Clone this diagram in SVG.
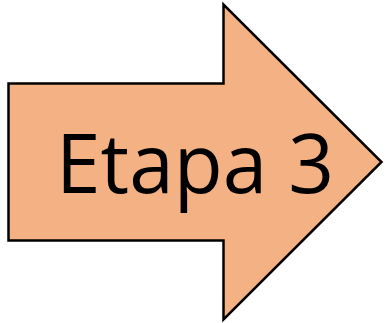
<svg xmlns="http://www.w3.org/2000/svg" width="385" height="323" viewBox="0 0 385 323">
<style>
.shape{fill:#F4B183;stroke:#000;stroke-width:2.5;stroke-linejoin:miter}
.lbl{font-family:"Open Sans","Liberation Sans",sans-serif;font-size:82px;fill:#000}
</style>
<rect width="385" height="323" fill="#fff"/>
<g id="arrow">
<path class="shape" d="M8.5,83.5 H223.5 V4.5 L381.5,162 L223.5,319.5 V240.5 H8.5 Z"/>
<text class="lbl" x="56" y="193" textLength="278" lengthAdjust="spacingAndGlyphs">Etapa 3</text>
</g>
</svg>
